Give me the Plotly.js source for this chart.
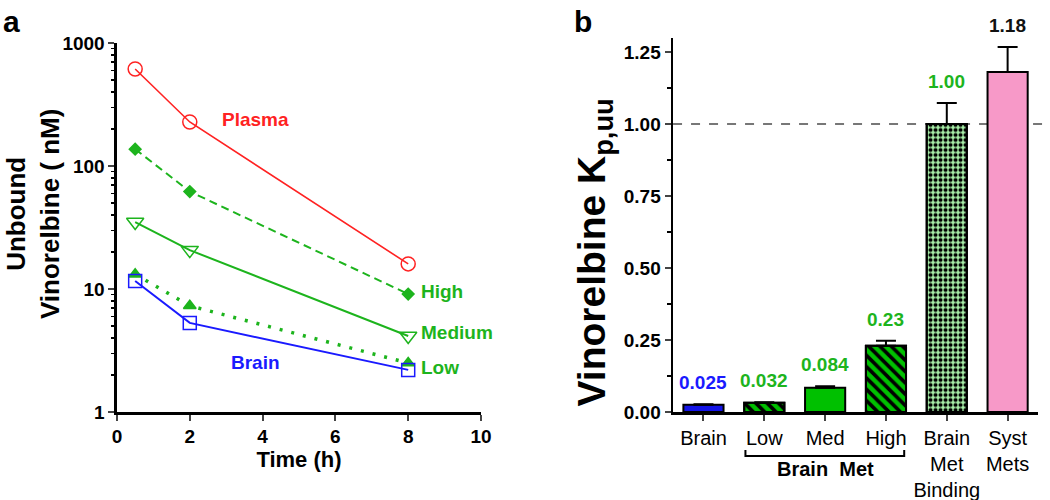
<!DOCTYPE html>
<html>
<head>
<meta charset="utf-8">
<script src="https://cdn.plot.ly/plotly-3.0.1.min.js"></script>
<style>
  body { margin: 0; background: #fff; }
  #chart { width: 1050px; height: 500px; }
</style>
</head>
<body>
<div id="chart"></div>
<script>
// panel a: unbound vinorelbine vs time
var times = [0.5, 2, 8];
var plasma = [615, 228, 16];
var high = [137, 62, 9.1];
var medium = [35, 20.7, 4.15];
var low = [13.2, 7.3, 2.5];
var brain = [11.6, 5.3, 2.2];

// panel b: Kp,uu bars
var groups = ['Brain', 'Low', 'Med', 'High', 'BMB', 'Syst'];
var groupLabels = ['Brain', 'Low', 'Med', 'High', 'Brain<br>Met<br>Binding', 'Syst<br>Mets'];
var kpuu = [0.025, 0.032, 0.084, 0.23, 1.00, 1.18];
var kpuuErr = [0.002, 0.002, 0.005, 0.017, 0.073, 0.087];
var kpuuText = ['0.025', '0.032', '0.084', '0.23', '1.00', '1.18'];
// which bars carry a hatch / checker pattern
var patternShape = ['', '\\', '', '\\', '.', ''];

var RED = '#ff2222';
var GREEN = '#1db41d';
var BLUE = '#1a1aff';
var sans = 'Liberation Sans, Arial, sans-serif';

function line(y, name, color, dash, width, symbol, size) {
  return {
    x: times, y: y, name: name, type: 'scatter', mode: 'lines+markers',
    xaxis: 'x', yaxis: 'y', cliponaxis: false,
    line: {color: color, dash: dash, width: width},
    marker: {symbol: symbol, size: size, color: color, line: {color: color, width: 1.5}}
  };
}

var traces = [
  line(plasma, 'Plasma', RED, 'solid', 1.6, 'circle-open', 14),
  line(high, 'High', GREEN, '8px,5px', 2, 'diamond', 9),
  line(medium, 'Medium', GREEN, 'solid', 2, 'triangle-down-open', 15),
  line(low, 'Low', GREEN, '3px,9px', 3.5, 'triangle-up', 11),
  line(brain, 'Brain', BLUE, 'solid', 2, 'square-open', 13)
];

var fills = ['#1414e6', '#00c000', '#00c000', '#00c000', '#a8f0a8', '#f799c8'];

// base bars (fill colour + error bars)
traces.push({
  x: groups, y: kpuu, type: 'bar', xaxis: 'x2', yaxis: 'y2', width: 0.66,
  marker: {color: fills, line: {color: '#000', width: 2}},
  error_y: {type: 'data', symmetric: false, array: kpuuErr, arrayminus: kpuuErr.map(function () { return 0; }),
            color: '#000', thickness: 2, width: 10},
  cliponaxis: false
});

// black hatch / checker drawn over the patterned bars
var patX = [], patY = [], patS = [], patSize = [], patSolid = [];
for (var j = 0; j < groups.length; j++) {
  if (patternShape[j]) {
    patX.push(groups[j]);
    patY.push(kpuu[j]);
    patS.push(patternShape[j]);
    patSize.push(patternShape[j] === '.' ? 5 : 8);
    patSolid.push(patternShape[j] === '.' ? 0.5 : 0.45);
  }
}
traces.push({
  x: patX, y: patY, type: 'bar', xaxis: 'x2', yaxis: 'y2', width: 0.66,
  marker: {
    color: '#000', line: {color: '#000', width: 2},
    pattern: {shape: patS, fgcolor: '#000', bgcolor: 'rgba(0,0,0,0)', size: patSize, solidity: patSolid, fillmode: 'replace'}
  },
  cliponaxis: false
});

var annotations = [
  {text: '<b>a</b>', xref: 'paper', yref: 'paper', x: 0.001, y: 0.994, xanchor: 'left', yanchor: 'top', showarrow: false, font: {family: sans, size: 30, color: '#000'}},
  {text: '<b>b</b>', xref: 'paper', yref: 'paper', x: 0.545, y: 0.994, xanchor: 'left', yanchor: 'top', showarrow: false, font: {family: sans, size: 30, color: '#000'}},
  {text: '<b>Unbound<br>Vinorelbine ( nM)</b>', xref: 'paper', yref: 'paper', x: 33 / 1050, y: 0.572, textangle: -90,
   xanchor: 'center', yanchor: 'middle', showarrow: false, font: {family: sans, size: 26, color: '#000'}},
  {text: '<b>Vinorelbine K<sub>p,uu</sub></b>', xref: 'paper', yref: 'paper', x: 594 / 1050, y: 0.495, textangle: -90,
   xanchor: 'center', yanchor: 'middle', showarrow: false, font: {family: sans, size: 39, color: '#000'}},
  {text: '<b>Plasma</b>', xref: 'x', yref: 'y', x: 3.8, y: Math.log10(237), showarrow: false, font: {family: sans, size: 19, color: RED}},
  {text: '<b>High</b>', xref: 'x', yref: 'y', x: 8.3, y: Math.log10(9.5), xanchor: 'left', showarrow: false, font: {family: sans, size: 19, color: GREEN}},
  {text: '<b>Medium</b>', xref: 'x', yref: 'y', x: 8.3, y: Math.log10(4.47), xanchor: 'left', showarrow: false, font: {family: sans, size: 19, color: GREEN}},
  {text: '<b>Low</b>', xref: 'x', yref: 'y', x: 8.3, y: Math.log10(2.3), xanchor: 'left', showarrow: false, font: {family: sans, size: 19, color: GREEN}},
  {text: '<b>Brain</b>', xref: 'x', yref: 'y', x: 3.8, y: Math.log10(2.55), showarrow: false, font: {family: sans, size: 19, color: BLUE}},
  {text: '<b>Brain  Met</b>', xref: 'x2', yref: 'paper', x: 2, y: 0.062, yanchor: 'middle', showarrow: false, font: {family: sans, size: 20, color: '#000'}}
];

var labelColors = [BLUE, GREEN, GREEN, GREEN, GREEN, '#111'];
for (var i = 0; i < groups.length; i++) {
  annotations.push({
    text: '<b>' + kpuuText[i] + '</b>', xref: 'x2', yref: 'y2', x: groups[i], y: kpuu[i] + kpuuErr[i],
    yanchor: 'bottom', yshift: 9, showarrow: false,
    font: {family: sans, size: 19, color: labelColors[i]}
  });
}

var minorLog = [];
[1, 10, 100].forEach(function (d) {
  for (var k = 2; k <= 9; k++) minorLog.push(d * k);
});

var tickFont = {family: sans, size: 19, color: '#000', weight: 'bold'};

var layout = {
  width: 1050, height: 500,
  margin: {l: 0, r: 0, t: 0, b: 0},
  paper_bgcolor: '#fff', plot_bgcolor: 'rgba(0,0,0,0)',
  showlegend: false, barmode: 'overlay',
  xaxis: {
    domain: [0.1114, 0.4581], anchor: 'y', range: [0, 10], tickmode: 'linear', tick0: 0, dtick: 2,
    showline: true, linecolor: '#000', linewidth: 2.5, ticks: 'outside', ticklen: 6, tickwidth: 2,
    showgrid: false, zeroline: false, tickfont: tickFont,
    title: {text: '<b>Time (h)</b>', font: {family: sans, size: 22, color: '#000'}, standoff: 6}
  },
  yaxis: {
    domain: [0.176, 0.914], anchor: 'x', type: 'log', range: [0, 3], tickmode: 'linear', tick0: 0, dtick: 1,
    showline: true, linecolor: '#000', linewidth: 2.5, ticks: 'outside', ticklen: 6, tickwidth: 2,
    minor: {ticks: 'outside', ticklen: 3.5, tickwidth: 1.5, tickcolor: '#000', tickmode: 'array', tickvals: minorLog, showgrid: false},
    showgrid: false, zeroline: false, tickfont: tickFont
  },
  xaxis2: {
    domain: [0.641, 0.9886], anchor: 'y2', type: 'category', range: [-0.5, 5.5],
    tickvals: groups, ticktext: groupLabels,
    showline: true, linecolor: '#000', linewidth: 2.5, ticks: 'outside', ticklen: 6, tickwidth: 2,
    showgrid: false, zeroline: false,
    tickfont: {family: sans, size: 20, color: '#000'}
  },
  yaxis2: {
    domain: [0.176, 0.925], anchor: 'x2', range: [0, 1.3], tickmode: 'linear', tick0: 0, dtick: 0.25, tickformat: '.2f',
    showline: true, linecolor: '#000', linewidth: 2.5, ticks: 'outside', ticklen: 6, tickwidth: 2,
    minor: {ticks: 'outside', ticklen: 3.5, tickwidth: 1.5, tickcolor: '#000', dtick: 0.125, showgrid: false},
    showgrid: false, zeroline: false, tickfont: tickFont
  },
  shapes: [
    {type: 'line', xref: 'x2 domain', yref: 'y2', x0: 0, x1: 1.02, y0: 1, y1: 1, layer: 'below',
     line: {color: '#777', width: 2, dash: 'dash'}},
    {type: 'path', xref: 'x2', yref: 'paper', path: 'M0.69,0.1 L0.69,0.088 L3.3,0.088 L3.3,0.1',
     line: {color: '#000', width: 2}}
  ],
  annotations: annotations
};

Plotly.newPlot('chart', traces, layout, {displayModeBar: false, staticPlot: true});
</script>
</body>
</html>
